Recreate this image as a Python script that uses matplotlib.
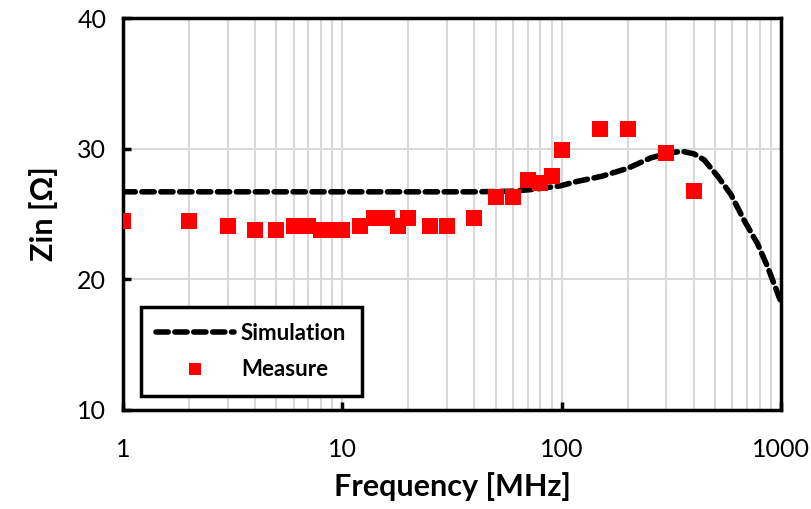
import matplotlib.pyplot as plt
from matplotlib.ticker import FixedLocator, NullLocator, FixedFormatter

# measured input impedance
meas_freq = [1, 2, 3, 4, 5, 6, 7, 8, 9, 10, 12, 14, 16, 18, 20, 25, 30, 40,
             50, 60, 70, 80, 90, 100, 150, 200, 300, 400]
meas_zin = [24.5, 24.5, 24.1, 23.8, 23.8, 24.1, 24.1, 23.8, 23.8, 23.8, 24.1,
            24.7, 24.7, 24.1, 24.7, 24.1, 24.1, 24.7, 26.3, 26.3, 27.6, 27.4,
            27.9, 29.9, 31.5, 31.5, 29.7, 26.75]

# simulated curve
sim_freq = [1, 5, 10, 20, 40, 60, 75, 98, 118, 153, 200, 255, 315, 356, 402,
            446, 514, 591, 680, 783, 869, 982, 1000]
sim_zin = [26.7, 26.7, 26.7, 26.7, 26.7, 26.75, 26.9, 27.15, 27.5, 27.9, 28.5,
           29.3, 29.7, 29.8, 29.6, 29.15, 27.9, 26.5, 24.5, 22.7, 20.95, 18.6,
           18.3]

x_ticks = [1, 10, 100, 1000]
y_ticks = [10, 20, 30, 40]

FONT = "Lato"
RED = "#ff0000"
GRID = "#d9d9d9"

fig = plt.figure(figsize=(8.11, 5.09), dpi=100)
ax = fig.add_axes([0.1517, 0.1945, 0.8113, 0.770])

ax.plot(sim_freq, sim_zin, color="black", linewidth=4, linestyle=(0, (2.2, 1.2)),
        dash_capstyle="round", label="Simulation", zorder=3)
ax.plot(meas_freq, meas_zin, linestyle="none", marker="s", markersize=11,
        color=RED, markeredgewidth=0, label="Measure", zorder=4)

ax.set_xscale("log")
ax.set_xlim(1, 1000)
ax.set_ylim(10, 40)
ax.xaxis.set_major_locator(FixedLocator(x_ticks))
ax.xaxis.set_major_formatter(FixedFormatter([str(v) for v in x_ticks]))
ax.yaxis.set_major_locator(FixedLocator(y_ticks))
ax.yaxis.set_minor_locator(NullLocator())

ax.grid(True, which="major", color=GRID, linewidth=1.5, zorder=0)
ax.grid(True, which="minor", axis="x", color=GRID, linewidth=1.5, zorder=0)
ax.set_axisbelow(True)

ax.tick_params(axis="both", which="major", direction="in", length=6, width=2.5,
               labelsize=18)
ax.tick_params(axis="x", which="minor", length=0)
ax.tick_params(axis="y", pad=12)
ax.tick_params(axis="x", pad=20)
for lab in ax.get_xticklabels() + ax.get_yticklabels():
    lab.set_fontfamily(FONT)

for s in ax.spines.values():
    s.set_linewidth(2.5)
    s.set_color("black")

ax.set_xlabel("Frequency [MHz]", fontsize=22, fontweight="bold",
              family=FONT, labelpad=8)
ax.set_ylabel("Zin [Ω]", fontsize=22, fontweight="bold", family=FONT,
              labelpad=14)

leg = ax.legend(loc="lower left", bbox_to_anchor=(0.027, 0.036),
                prop={"family": FONT, "weight": "bold", "size": 16},
                frameon=True, fancybox=False, edgecolor="black",
                framealpha=1, borderpad=0.7, labelspacing=0.7,
                handlelength=3.5, handletextpad=0.3, borderaxespad=0,
                markerscale=0.85)
leg.get_frame().set_linewidth(2.5)

plt.savefig("out.png", dpi=100, facecolor="white")
